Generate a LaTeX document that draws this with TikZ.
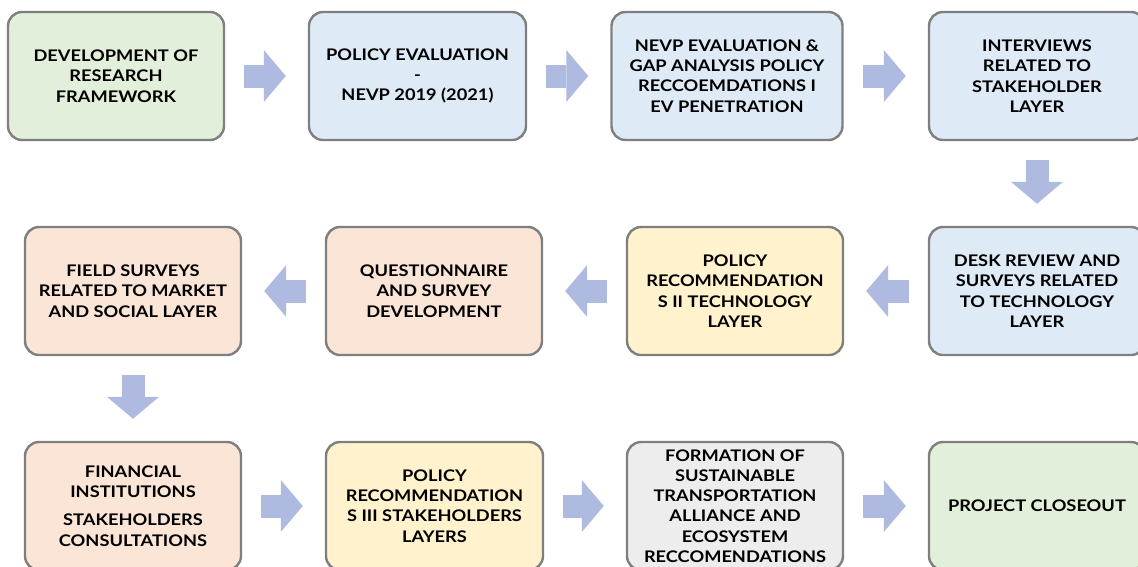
\documentclass[tikz,border=0pt]{standalone}
\usepackage{fontspec}
\setmainfont{Lato}[FakeStretch=1.14]
\usetikzlibrary{arrows.meta}

\definecolor{boxline}{HTML}{7F7F7F}
\definecolor{flowblue}{HTML}{AEBADF}
\definecolor{greenfill}{HTML}{E2EFDA}
\definecolor{bluefill}{HTML}{DEEBF7}
\definecolor{peachfill}{HTML}{FBE5D6}
\definecolor{yellowfill}{HTML}{FFF2CC}
\definecolor{greyfill}{HTML}{EDEDED}

\begin{document}
\begin{tikzpicture}[x=1pt,y=-1pt,
    box/.style={rectangle,rounded corners=14pt,draw=boxline,line width=2.4pt,
      minimum width=216pt,minimum height=128pt,inner sep=0pt,align=center,
      font=\fontsize{16}{20.3}\selectfont\bfseries},
    flow/.style={draw=flowblue,line width=23pt,
      -{Triangle[length=22pt,width=52pt,line width=0pt]},
      shorten <=19pt,shorten >=22pt}]
   \useasboundingbox (0,0) rectangle (1138,566);
   \clip (0,0) rectangle (1138,566);

   \node[box,fill=greenfill] (dev) at (116,76) {DEVELOPMENT OF\\RESEARCH\\FRAMEWORK};
   \node[box,fill=bluefill,minimum width=217pt] (poleval) at (417.5,76) {POLICY EVALUATION\\-\\NEVP 2019 (2021)};
   \node[box,fill=bluefill,minimum width=231pt] (gap) at (727,76) {NEVP EVALUATION \&\\GAP ANALYSIS POLICY\\RECCOEMDATIONS I\\EV PENETRATION};
   \node[box,fill=bluefill] (interv) at (1037,76) {INTERVIEWS\\RELATED TO\\STAKEHOLDER\\LAYER};

   \node[box,fill=bluefill] (desk) at (1037,291) {DESK REVIEW AND\\SURVEYS RELATED\\TO TECHNOLOGY\\LAYER};
   \node[box,fill=yellowfill] (polII) at (735,291) {POLICY\\RECOMMENDATION\\S II TECHNOLOGY\\LAYER};
   \node[box,fill=peachfill] (quest) at (434,291) {QUESTIONNAIRE\\AND SURVEY\\DEVELOPMENT};
   \node[box,fill=peachfill] (field) at (133,291) {FIELD SURVEYS\\RELATED TO MARKET\\AND SOCIAL LAYER};

   \node[box,fill=peachfill] (fin) at (133,506) {FINANCIAL\\INSTITUTIONS\\[8pt]STAKEHOLDERS\\CONSULTATIONS};
   \node[box,fill=yellowfill,minimum width=217pt] (polIII) at (434.5,506) {POLICY\\RECOMMENDATION\\S III STAKEHOLDERS\\LAYERS};
   \node[box,fill=greyfill] (alliance) at (735,506) {FORMATION OF\\SUSTAINABLE\\TRANSPORTATION\\ALLIANCE AND\\ECOSYSTEM\\RECCOMENDATIONS};
   \node[box,fill=greenfill] (closeout) at (1037,506) {PROJECT CLOSEOUT};

   \draw[flow] (dev) -- (poleval);
   \draw[flow] (poleval) -- (gap);
   \draw[flow] (gap) -- (interv);
   \draw[flow] (interv) -- (desk);
   \draw[flow] (desk) -- (polII);
   \draw[flow] (polII) -- (quest);
   \draw[flow] (quest) -- (field);
   \draw[flow] (field) -- (fin);
   \draw[flow] (fin) -- (polIII);
   \draw[flow] (polIII) -- (alliance);
   \draw[flow] (alliance) -- (closeout);
\end{tikzpicture}
\end{document}
